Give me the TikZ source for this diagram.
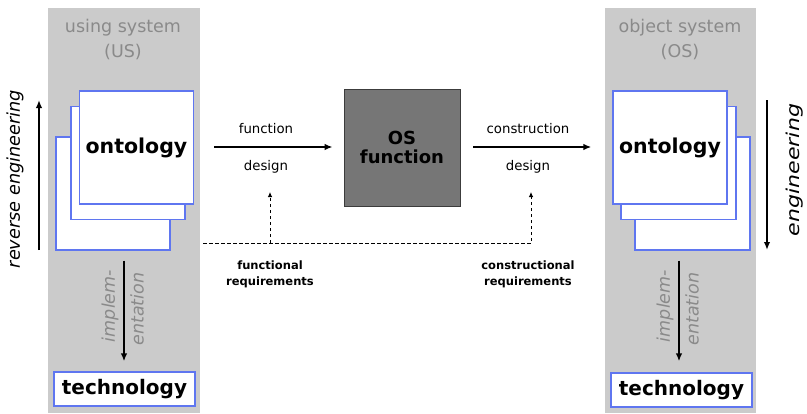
\documentclass[tikz,border=0pt]{standalone}
\usepackage{fontspec}
\setmainfont{DejaVu Sans}
\usetikzlibrary{arrows.meta}

\definecolor{panelgrey}{RGB}{203,203,203}
\definecolor{titlegrey}{RGB}{138,138,138}
\definecolor{sheetblue}{RGB}{95,118,240}
\definecolor{osgrey}{RGB}{118,118,118}
\definecolor{osedge}{RGB}{60,60,60}

\newcommand{\fs}[1]{\fontsize{#1}{1.2\dimexpr #1pt\relax}\selectfont}

\tikzset{
  panel/.style={fill=panelgrey, draw=none, inner sep=0pt},
  sheet/.style={draw=sheetblue, fill=white, line width=1.3pt, inner sep=0pt,
                minimum width=114pt, minimum height=113pt},
  techbox/.style={draw=sheetblue, fill=white, line width=1.3pt, inner sep=0pt,
                  minimum width=141pt, minimum height=34pt,
                  font=\fs{20}\bfseries},
  osbox/.style={draw=osedge, fill=osgrey, line width=0.8pt, inner sep=0pt,
                minimum width=116pt, minimum height=117pt, align=center,
                font=\fs{18}\bfseries, text=black},
  title/.style={text=titlegrey, align=center, font=\fontsize{17.5}{25}\selectfont},
  lbl/.style={inner sep=0pt, font=\fs{13.3}},
  req/.style={inner sep=0pt, align=center, font=\fontsize{11.5}{16}\selectfont\bfseries},
  side/.style={inner sep=0pt, rotate=90, font=\fs{17.7}\itshape},
  impl/.style={inner sep=0pt, rotate=90, text=titlegrey, font=\fs{17.5}\itshape},
  bigarrow/.style={-{Latex[length=8pt,width=6.5pt]}, line width=1.8pt},
  reqarrow/.style={-{Latex[length=5pt,width=4.5pt]}, line width=0.8pt,
                   dash pattern=on 3.5pt off 2.5pt},
}

\begin{document}
\begin{tikzpicture}[x=1pt,y=-1pt]
\useasboundingbox (0,0) rectangle (807,413);
\fill[white] (0,0) rectangle (807,413);

% grey system panels
\node[panel, minimum width=152pt, minimum height=405pt] (uspanel) at (124,210.5) {};
\node[panel, minimum width=151pt, minimum height=405pt] (ospanel) at (680.5,210.5) {};

% panel titles
\node[title] (ustitle) at (123,39.5) {using system\\(US)};
\node[title] (ostitle) at (680,39.5) {object system\\(OS)};

% stacked ontology sheets, using system
\node[sheet] (usback) at (113,193.5) {};
\node[sheet] (usmid) at (128,163) {};
\node[sheet, font=\fs{20.5}\bfseries] (usfront) at (136.5,147.5) {ontology};

% stacked ontology sheets, object system
\node[sheet, minimum width=115pt] (osback) at (692.5,193.5) {};
\node[sheet, minimum width=115pt] (osmid) at (678.5,163) {};
\node[sheet, font=\fs{20.5}\bfseries] (osfront) at (670,147.5) {ontology};

% technology boxes
\node[techbox] (ustech) at (124.5,389) {technology};
\node[techbox] (ostech) at (681.5,390) {technology};

% central OS function box
\node[osbox] (osfn) at (402,147.5) {OS\\[-2pt]function};

% design arrows
\draw[bigarrow] ([xshift=20pt]usfront.east |- 0,147) -- ([xshift=-11pt]osfn.west |- 0,147);
\draw[bigarrow] ([xshift=13pt]osfn.east |- 0,147) -- ([xshift=-21pt]osfront.west |- 0,147);
\node[lbl] (fnlbl) at (266,129) {function};
\node[lbl] (fdes) at (266,167) {design};
\node[lbl] (cnlbl) at (528,129) {construction};
\node[lbl] (cdes) at (528,167) {design};

% requirements feeding the design steps
\coordinate (reqstart) at (203,243);
\coordinate (fjoin) at (270,243);
\coordinate (cjoin) at (531,243);
\coordinate (ftip) at (270,192);
\coordinate (ctip) at (531,192);
\draw[reqarrow] (reqstart) -- (cjoin) -- (ctip);
\draw[reqarrow] (fjoin) -- (ftip);
\node[req] (freq) at (270,274) {functional\\requirements};
\node[req] (creq) at (528,274) {constructional\\requirements};

% engineering directions
\coordinate (revlow) at (39,250);
\coordinate (revhigh) at (39,100);
\draw[bigarrow] (revlow) -- (revhigh);
\node[side] (revlbl) at (15,179) {reverse engineering};
\coordinate (enghigh) at (767,100);
\coordinate (englow) at (767,250);
\draw[bigarrow] (enghigh) -- (englow);
\node[side] (englbl) at (795,170) {\scalebox{1.25}[1]{engineering}};

% implementation arrows (canvas y points up, so shifts are reversed)
\draw[bigarrow] ([yshift=-10pt]usback.south -| 124,0) -- ([yshift=10pt]ustech.north -| 124,0);
\node[impl] (usimpl1) at (110,306) {implem-};
\node[impl] (usimpl2) at (137,309) {entation};
\draw[bigarrow] ([yshift=-10pt]osback.south -| 679,0) -- ([yshift=11pt]ostech.north -| 679,0);
\node[impl] (osimpl1) at (665,306) {implem-};
\node[impl] (osimpl2) at (692,309) {entation};
\end{tikzpicture}
\end{document}
